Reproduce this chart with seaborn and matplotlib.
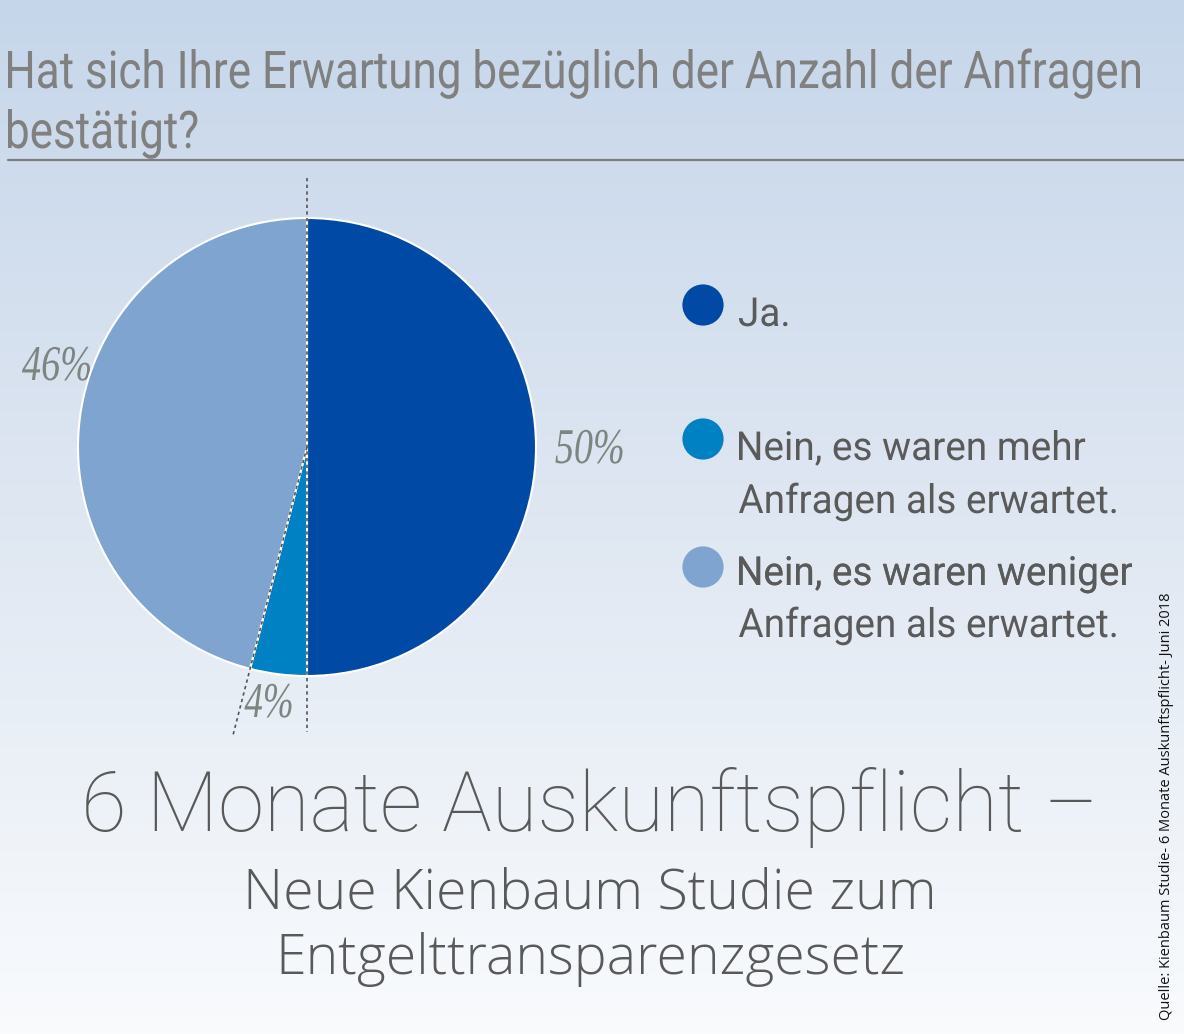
import numpy as np
import matplotlib.pyplot as plt
import seaborn as sns
from matplotlib.font_manager import FontProperties
from matplotlib.textpath import TextPath
from matplotlib.patches import PathPatch
from matplotlib.transforms import Affine2D

kategorien = ["Ja.", "Nein, es waren mehr\nAnfragen als erwartet.",
              "Nein, es waren weniger\nAnfragen als erwartet."]
anteile = [50, 4, 46]
farben = ["#004aa6", "#0081c4", "#7fa4cf"]
prozent_labels = [f"{a}%" for a in anteile]

titel = ["Hat sich Ihre Erwartung bezüglich der Anzahl der Anfragen", "bestätigt?"]
unter1 = "6 Monate Auskunftspflicht –"
unter2 = "Neue Kienbaum Studie zum\nEntgelttransparenzgesetz"
quelle = "Quelle: Kienbaum Studie- 6 Monate Auskunftspflicht- Juni 2018"

sns.set_style("white")

W, H = 1184, 1034
fig = plt.figure(figsize=(W / 100, H / 100), dpi=100)

# Hintergrund mit Farbverlauf
bg = fig.add_axes([0, 0, 1, 1])
top = np.array([0xc6, 0xd6, 0xea]) / 255
mid = np.array([0xdf, 0xe7, 0xf2]) / 255
bot = np.array([0xf9, 0xfb, 0xfd]) / 255
t = np.linspace(0, 1, 256)[:, None]
grad = np.where(t < 0.5, top + (mid - top) * (t / 0.5), mid + (bot - mid) * ((t - 0.5) / 0.5))
bg.imshow(grad[:, None, :], aspect="auto", extent=[0, W, H, 0], zorder=0)
bg.set_xlim(0, W)
bg.set_ylim(H, 0)
bg.axis("off")


def schmal(x, y, s, px, color, family="Roboto", weight="normal", style="normal",
           breite=None, sx=0.8, ha="left"):
    # schmale Schrift: Textpfad horizontal gestaucht, y ist die Grundlinie
    fp = FontProperties(family=family, weight=weight, style=style)
    tp = TextPath((0, 0), s, size=px, prop=fp)
    bb = tp.get_extents()
    if breite is not None:
        sx = breite / bb.width
    if ha == "center":
        x0 = x - (bb.x0 + bb.width / 2) * sx
    else:
        x0 = x - bb.x0 * sx
    tr = Affine2D().scale(sx, -1).translate(x0, y)
    bg.add_patch(PathPatch(tp, transform=tr + bg.transData, facecolor=color,
                           edgecolor="none", zorder=3))
    return sx


# Titel und Linie
sx_t = schmal(8, 88, titel[0], 52, "#808080", breite=1132)
schmal(8, 148, titel[1], 52, "#808080", sx=sx_t)
bg.plot([8, W], [160, 160], color="#7f7f7f", lw=1.6)

# Kreisdiagramm
cx, cy, r = 307, 447, 229
half = 320
ax = fig.add_axes([(cx - half) / W, (H - cy - half) / H, 2 * half / W, 2 * half / H])
ax.pie(anteile, colors=farben, startangle=90, counterclock=False, radius=1,
       wedgeprops=dict(edgecolor="white", linewidth=1.5))
lim = half / r
ax.set_xlim(-lim, lim)
ax.set_ylim(-lim, lim)
ax.set_aspect("equal")
ax.axis("off")

# gestrichelte Linien
ax.plot([0, 0], [(cy - 178) / r, -(732 - cy) / r], ls=(0, (2, 2)), color="#555555",
        lw=1.2, clip_on=False)
winkel = np.deg2rad(90 - 360 * sum(anteile[:2]) / 100)
ax.plot([0, 1.3 * np.cos(winkel)], [0, 1.3 * np.sin(winkel)], ls=(0, (2, 2)),
        color="#555555", lw=1.2, clip_on=False)

# Prozentwerte
label_pos = [(589, 463, 67), (268, 717, 47), (56, 380, 68)]
for lab, (x, y, b) in zip(prozent_labels, label_pos):
    schmal(x, y, lab, 50, "#7d8580", family="Liberation Serif", style="italic",
           breite=b, ha="center")

# Legende
leg_y = [305, 439, 567]
base_y = [[326], [460, 513], [585, 637]]
bg.scatter([703] * 3, leg_y, s=880, c=farben, edgecolors="none", zorder=3)
sx_l = schmal(739, base_y[2][0], kategorien[2].split("\n")[0], 40, "#5a5a5a",
              breite=393)
for k, bl in zip(kategorien, base_y):
    for zeile, yb in zip(k.split("\n"), bl):
        schmal(739, yb, zeile, 40, "#5a5a5a", sx=sx_l)

# Untertitel
bg.text(590, 808, unter1, fontsize=60, family="Roboto", fontweight="light",
        color="#595959", ha="center", va="center")
bg.text(590, 927, unter2, fontsize=40, family="Open Sans", fontweight="light",
        color="#595959", ha="center", va="center", linespacing=1.25)

# Quelle
bg.text(1166, 1020, quelle, fontsize=10.5, family="Open Sans", color="#111111",
        rotation=90, ha="center", va="bottom")

fig.savefig("out.png", dpi=100)
